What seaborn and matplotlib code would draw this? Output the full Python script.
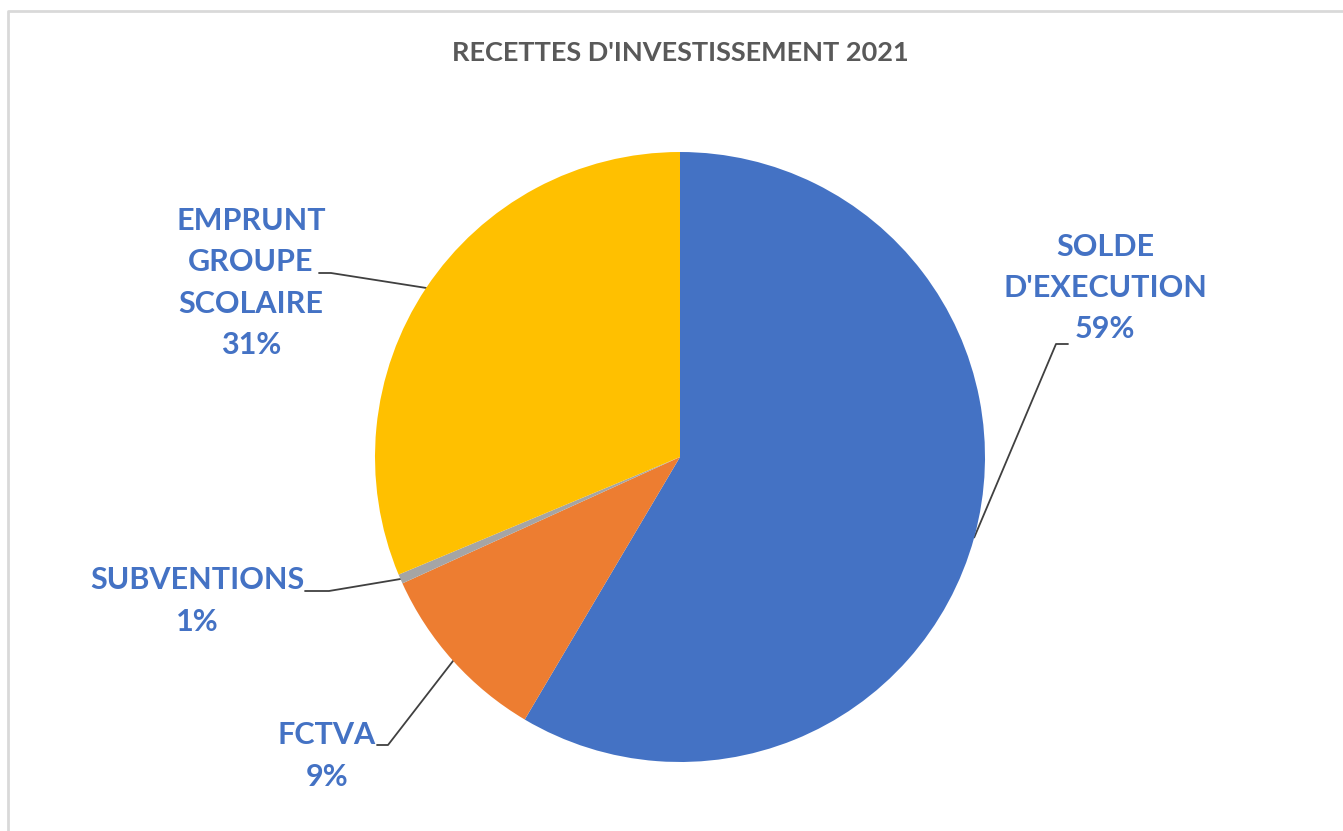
import numpy as np
import matplotlib
matplotlib.use("Agg")
import matplotlib.pyplot as plt
import seaborn as sns

# Donnees du graphique
categories = ["SOLDE\nD'EXECUTION", "FCTVA", "SUBVENTIONS", "EMPRUNT\nGROUPE\nSCOLAIRE"]
parts = [58.5, 9.7, 0.5, 31.3]
pct_labels = ["59%", "9%", "1%", "31%"]
colors = ["#4472C4", "#ED7D31", "#A5A5A5", "#FFC000"]

# position des etiquettes (pixels, origine en haut a gauche) et cote du coude
label_pos = [(1105, 288), (327, 756), (197, 601), (251, 283)]
elbow = [(1056, 344, 1068), (388, 745, 377), (329, 591, 305), (331, 273, 319)]

sns.set_theme(style="white")
plt.rcParams["font.family"] = ["Lato", "DejaVu Sans"]

W, H = 1343, 831
fig = plt.figure(figsize=(W / 100, H / 100), dpi=100)
ax = fig.add_axes([0, 0, 1, 1])
ax.set_xlim(0, W)
ax.set_ylim(H, 0)
ax.axis("off")

# cadre gris clair (coupe a droite et en bas)
ax.plot([8, 8, W], [H, 11, 11], color="#D9D9D9", lw=2, solid_capstyle="butt")

ax.text(680, 53, "RECETTES D'INVESTISSEMENT 2021", ha="center", va="center",
        fontsize=19.5, fontweight="bold", color="#595959")

# camembert dans un axe separe
cx, cy, r = 680, 457, 305
pie_ax = fig.add_axes([(cx - r) / W, 1 - (cy + r) / H, 2 * r / W, 2 * r / H])
wedges, _ = pie_ax.pie(parts, colors=colors, startangle=90, counterclock=False,
                       radius=1, wedgeprops=dict(linewidth=0))
pie_ax.set_xlim(-1, 1)
pie_ax.set_ylim(-1, 1)
pie_ax.set_aspect("auto")
pie_ax.axis("off")

for w, cat, pct, (lx, ly), (ex, ey, hx) in zip(wedges, categories, pct_labels, label_pos, elbow):
    mid = np.deg2rad((w.theta1 + w.theta2) / 2)
    px = cx + r * np.cos(mid)
    py = cy - r * np.sin(mid)
    ax.plot([hx, ex, px], [ey, ey, py], color="#404040", lw=1.3, zorder=5)
    ax.text(lx, ly, cat + "\n" + pct, ha="center", va="center", fontsize=22,
            fontweight="bold", color="#4472C4", linespacing=1.58)

fig.savefig("out.png", dpi=100, facecolor="white")
